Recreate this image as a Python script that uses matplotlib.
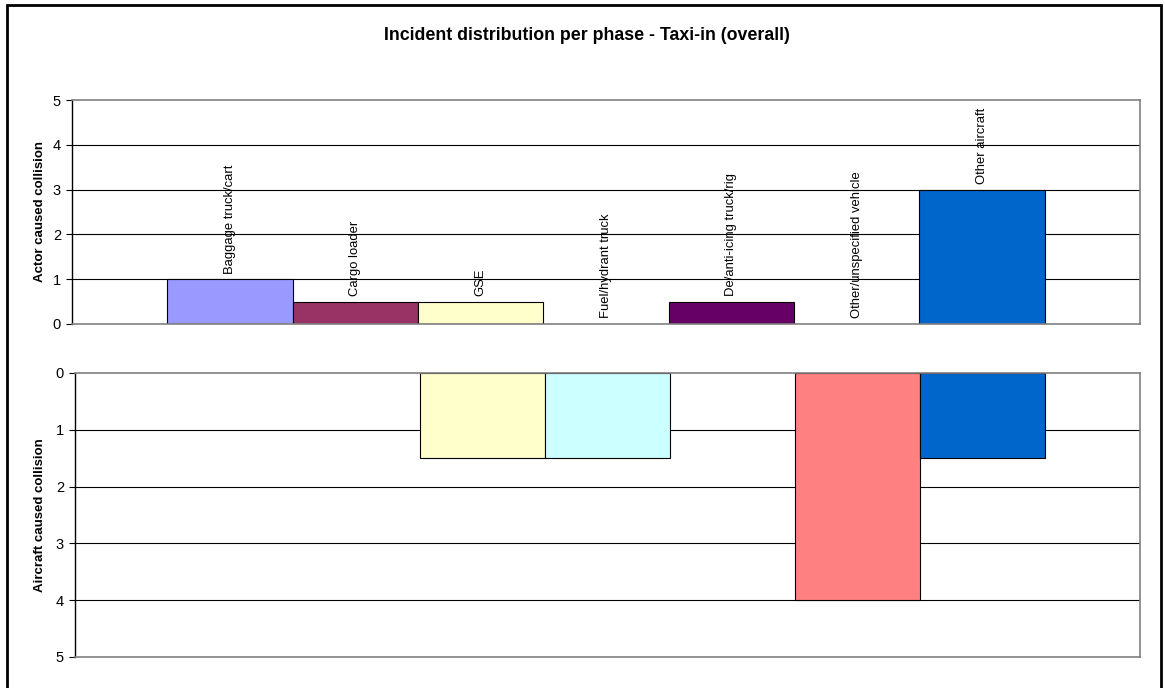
import numpy as np
import matplotlib
matplotlib.use("Agg")
import matplotlib.pyplot as plt
from matplotlib.patches import Rectangle

plt.rcParams['font.family'] = ['Liberation Sans', 'DejaVu Sans']

# data
categories = ['Baggage truck/cart', 'Cargo loader', 'GSE', 'Fuel/hydrant truck',
              'De/anti-icing truck/rig', 'Other/unspecified vehicle', 'Other aircraft']
actor_caused = [1, 0.5, 0.5, 0, 0.5, 0, 3]
aircraft_caused = [0, 0, 1.5, 1.5, 0, 4, 1.5]
colors = ['#9999FF', '#993366', '#FFFFCC', '#CCFFFF', '#660066', '#FF8080', '#0066CC']

fig = plt.figure(figsize=(11.65, 6.88), dpi=100)

# outer chart border
fig.patches.append(Rectangle((7 / 1165, -0.01), 1154 / 1165, 1 - 5 / 688 + 0.01,
                             transform=fig.transFigure, fill=False,
                             edgecolor='black', linewidth=2))

fig.text(587 / 1165, 1 - 35 / 688, 'Incident distribution per phase - Taxi-in (overall)',
         ha='center', va='center', fontsize=12.8, fontweight='bold')

x = np.arange(len(categories))
margin = 0.76


def style_axis(ax):
    for side in ['top', 'right', 'bottom']:
        ax.spines[side].set_color('#808080')
        ax.spines[side].set_linewidth(1.2)
    ax.spines['left'].set_color('black')
    ax.spines['left'].set_linewidth(1)
    ax.set_xticks([])
    ax.set_xlim(-0.5 - margin, len(categories) - 0.5 + margin)
    ax.set_ylim(0, 5)
    ax.set_yticks(range(6))
    ax.tick_params(axis='y', length=4, width=0.8, labelsize=10.5, pad=4)
    for v in range(1, 5):
        ax.axhline(v, color='black', linewidth=0.8, zorder=0)


def edge_colors(values):
    return ['black' if v > 0 else 'none' for v in values]


# top panel: actor caused
ax1 = fig.add_axes([72 / 1165, 1 - 324 / 688, 1068 / 1165, 224 / 688])
style_axis(ax1)
ax1.bar(x, actor_caused, width=1.0, color=colors, edgecolor=edge_colors(actor_caused),
        linewidth=0.8, zorder=2)
for xi, v, name in zip(x, actor_caused, categories):
    ax1.annotate(name, (xi, v), xytext=(0, 4), textcoords='offset points',
                 rotation=90, ha='center', va='bottom', fontsize=9.4, annotation_clip=False)
ax1.set_ylabel('Actor caused collision', fontsize=9.5, fontweight='bold', labelpad=5)

# bottom panel: aircraft caused
ax2 = fig.add_axes([75 / 1165, 1 - 657 / 688, 1065 / 1165, 284 / 688])
style_axis(ax2)
ax2.bar(x, aircraft_caused, width=1.0, color=colors, edgecolor=edge_colors(aircraft_caused),
        linewidth=0.8, zorder=2)
ax2.invert_yaxis()
ax2.set_ylabel('Aircraft caused collision', fontsize=9.5, fontweight='bold', labelpad=7)

fig.savefig('out.png', dpi=100)
